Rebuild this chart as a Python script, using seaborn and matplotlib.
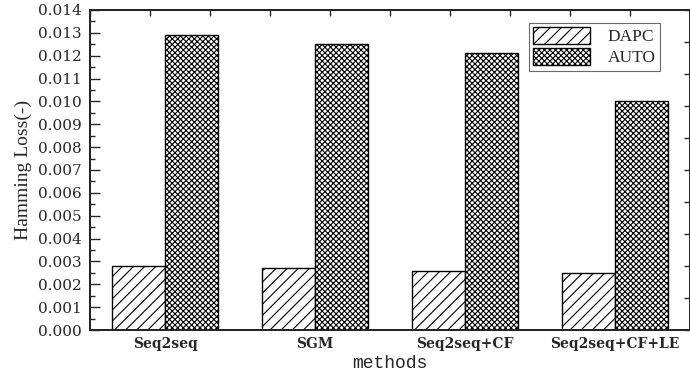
import numpy as np
import pandas as pd
import matplotlib
matplotlib.use("Agg")
import matplotlib.pyplot as plt
import matplotlib.patches as mpatches
from matplotlib.ticker import MultipleLocator
import seaborn as sns

# Data
methods = ["Seq2seq", "SGM", "Seq2seq+CF", "Seq2seq+CF+LE"]
dapc = [0.0028, 0.0027, 0.0026, 0.0025]
auto = [0.0129, 0.0125, 0.0121, 0.0100]
models = ["DAPC", "AUTO"]
hatches = {"DAPC": "///", "AUTO": "xxxxxx"}

df = pd.DataFrame({
    "method": methods * 2,
    "loss": dapc + auto,
    "model": ["DAPC"] * len(methods) + ["AUTO"] * len(methods),
})

sns.set_style("ticks")
plt.rcParams["hatch.linewidth"] = 0.8
plt.rcParams["hatch.color"] = "black"

fig = plt.figure(figsize=(6.9, 3.78), dpi=100)
ax = fig.add_axes([90 / 690, 1 - 330 / 378, 600 / 690, 320 / 378])

sns.barplot(data=df, x="method", y="loss", hue="model", hue_order=models,
            order=methods, width=0.71, gap=0, palette=["white", "white"],
            edgecolor="black", linewidth=1.0, saturation=1, ax=ax, legend=False)

for cont, m in zip(ax.containers, models):
    for bar in cont:
        bar.set_hatch(hatches[m])
        bar.set_facecolor("white")
        bar.set_edgecolor("black")

ax.set_xlim(-0.5, 3.5)
ax.set_ylim(0, 0.014)
ax.yaxis.set_minor_locator(MultipleLocator(0.0005))
yt = np.arange(0, 0.01401, 0.001)
ax.set_yticks(yt)
ax.set_yticklabels([f"{v:.3f}" for v in yt], family="DejaVu Serif", fontsize=11)
ax.tick_params(axis="y", which="major", direction="in", length=7, width=1.0, pad=6)
ax.tick_params(axis="y", which="minor", direction="in", length=3.5, width=1.0)
ax.tick_params(axis="x", length=0, pad=5)
for lbl in ax.get_xticklabels():
    lbl.set_family("DejaVu Serif")
    lbl.set_fontweight("bold")
    lbl.set_fontsize(10)

ax.set_xlabel("methods", family="Liberation Mono", fontsize=13, labelpad=3)
ax.set_ylabel("Hamming Loss(-)", family="Liberation Serif", fontsize=14, labelpad=4)

for s in ax.spines.values():
    s.set_visible(True)
    s.set_linewidth(1.3)
    s.set_color("black")

# top and right axes: tick marks only, ten divisions
ax_top = ax.twiny()
ax_top.set_xlim(ax.get_xlim())
ax_top.set_xticks(np.linspace(-0.5, 3.5, 11))
ax_top.tick_params(axis="x", direction="in", length=4.5, width=1.0, labeltop=False)
ax_right = ax.twinx()
ax_right.set_ylim(ax.get_ylim())
ax_right.set_yticks(np.linspace(0, 0.014, 11))
ax_right.tick_params(axis="y", direction="in", length=4.5, width=1.0, labelright=False)
for a in (ax_top, ax_right):
    for s in a.spines.values():
        s.set_linewidth(1.3)

handles = [mpatches.Patch(facecolor="white", edgecolor="black", hatch=hatches[m], label=m)
           for m in models]
leg = ax.legend(handles=handles, loc="upper right", bbox_to_anchor=(0.95, 0.96),
                borderaxespad=0, frameon=True, fancybox=False, handlelength=3.3,
                handleheight=1.1, handletextpad=1.0, labelspacing=0.15,
                borderpad=0.25, prop={"family": "Liberation Serif", "size": 12.5})
leg.get_frame().set_edgecolor("#444444")
leg.get_frame().set_linewidth(0.8)
leg.set_zorder(5)

fig.savefig("out.png", dpi=100)
